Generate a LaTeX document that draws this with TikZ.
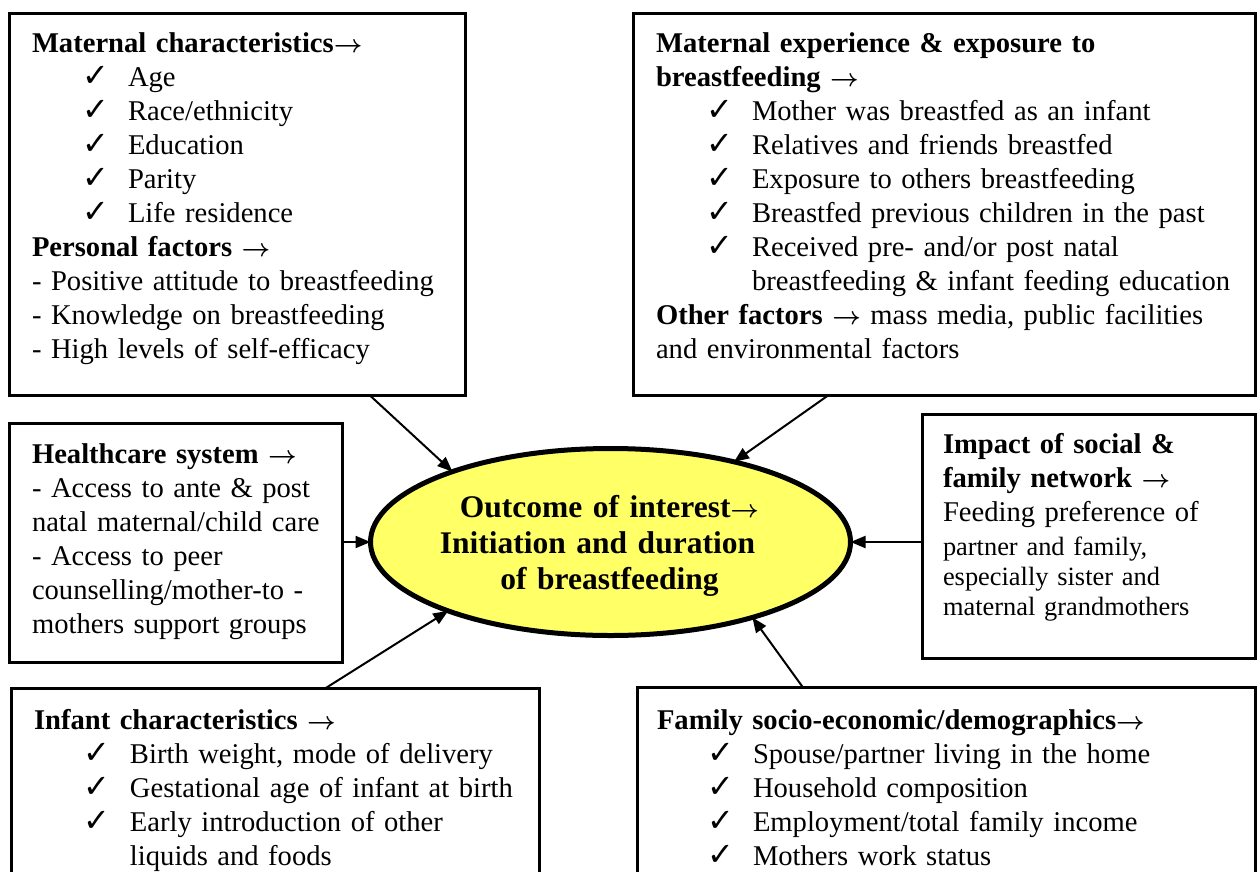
\documentclass[tikz,border=0pt]{standalone}
\usepackage{fontspec}
\setmainfont{Liberation Serif}
\newfontfamily\ckfont{DejaVu Sans}
\usetikzlibrary{arrows.meta,shapes.geometric}

\definecolor{ovalfill}{RGB}{255,255,102}

% arrow sign used in the headings
\newcommand\arr{{\boldmath$\rightarrow$}}
% check-marked list entry and its continuation line
\newcommand\ckitem[1]{\hspace*{50pt}\makebox[46pt][l]{\ckfont\fontsize{32}{32}\selectfont ✓}#1}
\newcommand\ckcont[1]{\hspace*{96pt}#1}

\tikzset{
  panel/.style={draw, line width=3.3pt, rectangle, inner sep=0pt, outer sep=0pt, anchor=north west},
  paneltext/.style={inner sep=0pt, outer sep=0pt, anchor=base west, align=left,
    text width=#1, font=\fontsize{28.6}{34}\selectfont},
  paneltext/.default=600pt,
  link/.style={line width=2pt, -{Triangle[length=15pt,width=12pt]}},
}

\begin{document}
\begin{tikzpicture}[x=1pt, y=-1pt]
\useasboundingbox (0,0) rectangle (1260,872);
\clip (0,0) rectangle (1260,872);

% central outcome
\node[ellipse, draw, line width=5pt, fill=ovalfill, minimum width=480pt,
      minimum height=187pt, inner sep=0pt, outer sep=0pt] (out) at (610.5,542) {};
\node[inner sep=0pt, anchor=base, text width=440pt, align=center,
      font=\bfseries\fontsize{31.5}{36}\selectfont] (outT) at (609.5,517)
  {Outcome of interest\arr\\Initiation and duration\kern24pt\\of breastfeeding};

% maternal characteristics
\node[panel, minimum width=456pt, minimum height=382pt] (mat) at (9.5,13.5) {};
\node[paneltext] (matT) at (32,53) {%
\textbf{Maternal characteristics\arr}\\
\ckitem{Age}\\
\ckitem{Race/ethnicity}\\
\ckitem{Education}\\
\ckitem{Parity}\\
\ckitem{Life residence}\\
\textbf{Personal factors \arr}\\
- Positive attitude to breastfeeding\\
- Knowledge on breastfeeding\\
- High levels of self-efficacy};

% maternal experience
\node[panel, minimum width=622pt, minimum height=382pt] (exp) at (633.5,13.5) {};
\node[paneltext] (expT) at (656,53) {%
\textbf{Maternal experience \& exposure to}\\
\textbf{breastfeeding \arr}\\
\ckitem{Mother was breastfed as an infant}\\
\ckitem{Relatives and friends breastfed}\\
\ckitem{Exposure to others breastfeeding}\\
\ckitem{Breastfed previous children in the past}\\
\ckitem{Received pre- and/or post natal}\\
\ckcont{breastfeeding \& infant feeding education}\\
\textbf{Other factors \arr} mass media, public facilities\\
and environmental factors};

% healthcare system
\node[panel, minimum width=333pt, minimum height=239pt] (hc) at (9.5,423.5) {};
\node[paneltext] (hcT) at (32,463) {%
\textbf{Healthcare system \arr}\\
- Access to ante \& post\\
natal maternal/child care\\
- Access to peer\\
counselling/mother-to -\\
mothers support groups};

% social and family network
\node[panel, minimum width=333pt, minimum height=244pt] (imp) at (922.5,414.5) {};
\node[paneltext] (impT) at (943,453) {%
\textbf{Impact of social \&}\\
\textbf{family network \arr}\\
Feeding preference of};
\node[paneltext, font=\fontsize{26.4}{30}\selectfont] (impT2) at (943,555) {%
partner and family,\\
especially sister and\\
maternal grandmothers};

% infant characteristics
\node[panel, minimum width=528pt, minimum height=220pt] (inf) at (11.5,688.5) {};
\node[paneltext] (infT) at (34,729) {%
\textbf{Infant characteristics \arr}\\
\ckitem{Birth weight, mode of delivery}\\
\ckitem{Gestational age of infant at birth}\\
\ckitem{Early introduction of other}\\
\ckcont{liquids and foods}};

% family socio-economic factors
\node[panel, minimum width=618pt, minimum height=220pt] (fam) at (637.5,687.5) {};
\node[paneltext] (famT) at (657,729) {%
\textbf{Family socio-economic/demographics\arr}\\
\ckitem{Spouse/partner living in the home}\\
\ckitem{Household composition}\\
\ckitem{Employment/total family income}\\
\ckitem{Mothers work status}};

% influences on the outcome
\draw[link] ([xshift=132.5pt]mat.south) -- (out.156.8);
\draw[link] ([xshift=-116.5pt]exp.south) -- (out.33.4);
\draw[link] (hc.east |- out.west) -- (out.west);
\draw[link] (imp.west |- out.east) -- (out.east);
\draw[link] ([xshift=49.5pt]inf.north) -- (out.203.5);
\draw[link] ([xshift=-143.5pt]fam.north) -- (out.332.7);
\end{tikzpicture}
\end{document}
